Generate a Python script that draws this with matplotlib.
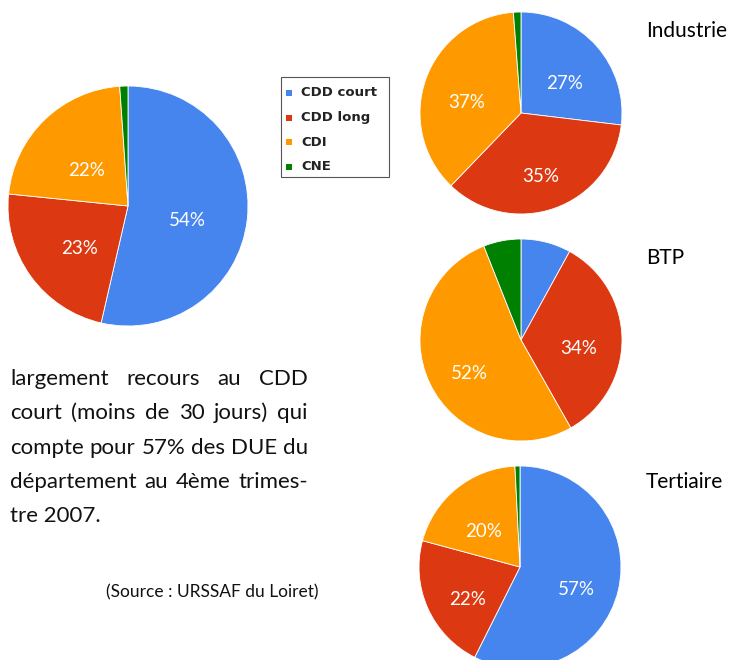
import matplotlib
matplotlib.use("Agg")
import matplotlib.pyplot as plt
from matplotlib.patches import Rectangle

# ---- data ----
categories = ["CDD court", "CDD long", "CDI", "CNE"]
colors = ["#4684EE", "#DC3912", "#FF9900", "#008000"]
total_values = [53.6, 23.0, 22.3, 1.1]
industrie_values = [26.9, 35.3, 36.6, 1.2]
btp_values = [8.0, 33.8, 52.2, 6.0]
tertiaire_values = [57.4, 21.8, 20.0, 0.8]
sector_titles = ["Industrie", "BTP", "Tertiaire"]

paragraph_lines = [
    "largement recours au CDD",
    "court (moins de 30 jours) qui",
    "compte pour 57% des DUE du",
    "département au 4ème trimes-",
    "tre 2007.",
]
source_text = "(Source : URSSAF du Loiret)"

W, H = 734, 660
fig = plt.figure(figsize=(W / 100, H / 100), dpi=100)
fig.patch.set_facecolor("white")
FONT = "Lato"


def px_axes(cx, cy, r):
    return fig.add_axes([(cx - r) / W, (H - cy - r) / H, 2 * r / W, 2 * r / H])


def draw_pie(ax, vals, r_px, pctdist=0.57, shift_px=10, fs=13.5):
    _, _, autotexts = ax.pie(
        vals, colors=colors, startangle=90, counterclock=False,
        autopct=lambda p: f"{p:.0f}%" if p >= 10 else "",
        pctdistance=pctdist,
        wedgeprops=dict(edgecolor="white", linewidth=0.6),
        textprops=dict(color="white", fontsize=fs, family=FONT))
    for t in autotexts:
        x, y = t.get_position()
        t.set_position((x, y - shift_px / r_px))
    ax.set_xlim(-1, 1)
    ax.set_ylim(-1, 1)
    ax.set_aspect("equal")
    ax.axis("off")


# main pie
ax0 = px_axes(128, 206, 120)
draw_pie(ax0, total_values, 120, pctdist=0.5, shift_px=8)

# sector pies
sector_vals = [industrie_values, btp_values, tertiaire_values]
centers = [(521, 113), (521, 340), (520, 567)]
title_baselines = [37, 264, 488]
for vals, (cx, cy), title, tb in zip(sector_vals, centers, sector_titles, title_baselines):
    ax = px_axes(cx, cy, 101)
    draw_pie(ax, vals, 101, pctdist=0.57, shift_px=9)
    fig.text(646 / W, 1 - tb / H, title, fontsize=15, family=FONT,
             color="black", ha="left", va="baseline")

# legend box
lx0, ly0, lx1, ly1 = 281, 77, 389, 177
fig.patches.append(Rectangle((lx0 / W, 1 - ly1 / H), (lx1 - lx0) / W, (ly1 - ly0) / H,
                             transform=fig.transFigure, facecolor="white",
                             edgecolor="#555555", linewidth=0.8))
entry_y = [93, 118, 142, 167]
for cat, col, ey in zip(categories, colors, entry_y):
    fig.patches.append(Rectangle((286 / W, 1 - (ey + 3) / H), 6 / W, 6 / H,
                                 transform=fig.transFigure, facecolor=col,
                                 edgecolor="none"))
    fig.text(301 / W, 1 - ey / H, cat, fontsize=9.5, family="DejaVu Sans",
             fontweight="bold", color="#222222", ha="left", va="center")

# justified paragraph
renderer = fig.canvas.get_renderer()
left_px, right_px = 10, 308
baseline0, spacing = 385, 34.3
PFS = 16
for i, line in enumerate(paragraph_lines):
    y = 1 - (baseline0 + i * spacing) / H
    words = line.split(" ")
    if i == len(paragraph_lines) - 1:
        fig.text(left_px / W, y, line, fontsize=PFS, family=FONT, color="#111111",
                 ha="left", va="baseline")
        continue
    texts = [fig.text(0, y, w, fontsize=PFS, family=FONT, color="#111111",
                      ha="left", va="baseline") for w in words]
    widths = [t.get_window_extent(renderer).width for t in texts]
    gap = (right_px - left_px - sum(widths)) / (len(words) - 1)
    x = left_px
    for t, wdt in zip(texts, widths):
        t.set_x(x / W)
        x += wdt + gap

fig.text(318 / W, 1 - 597 / H, source_text, fontsize=12.5, family=FONT,
         color="#111111", ha="right", va="baseline")

fig.savefig("out.png", dpi=100)
